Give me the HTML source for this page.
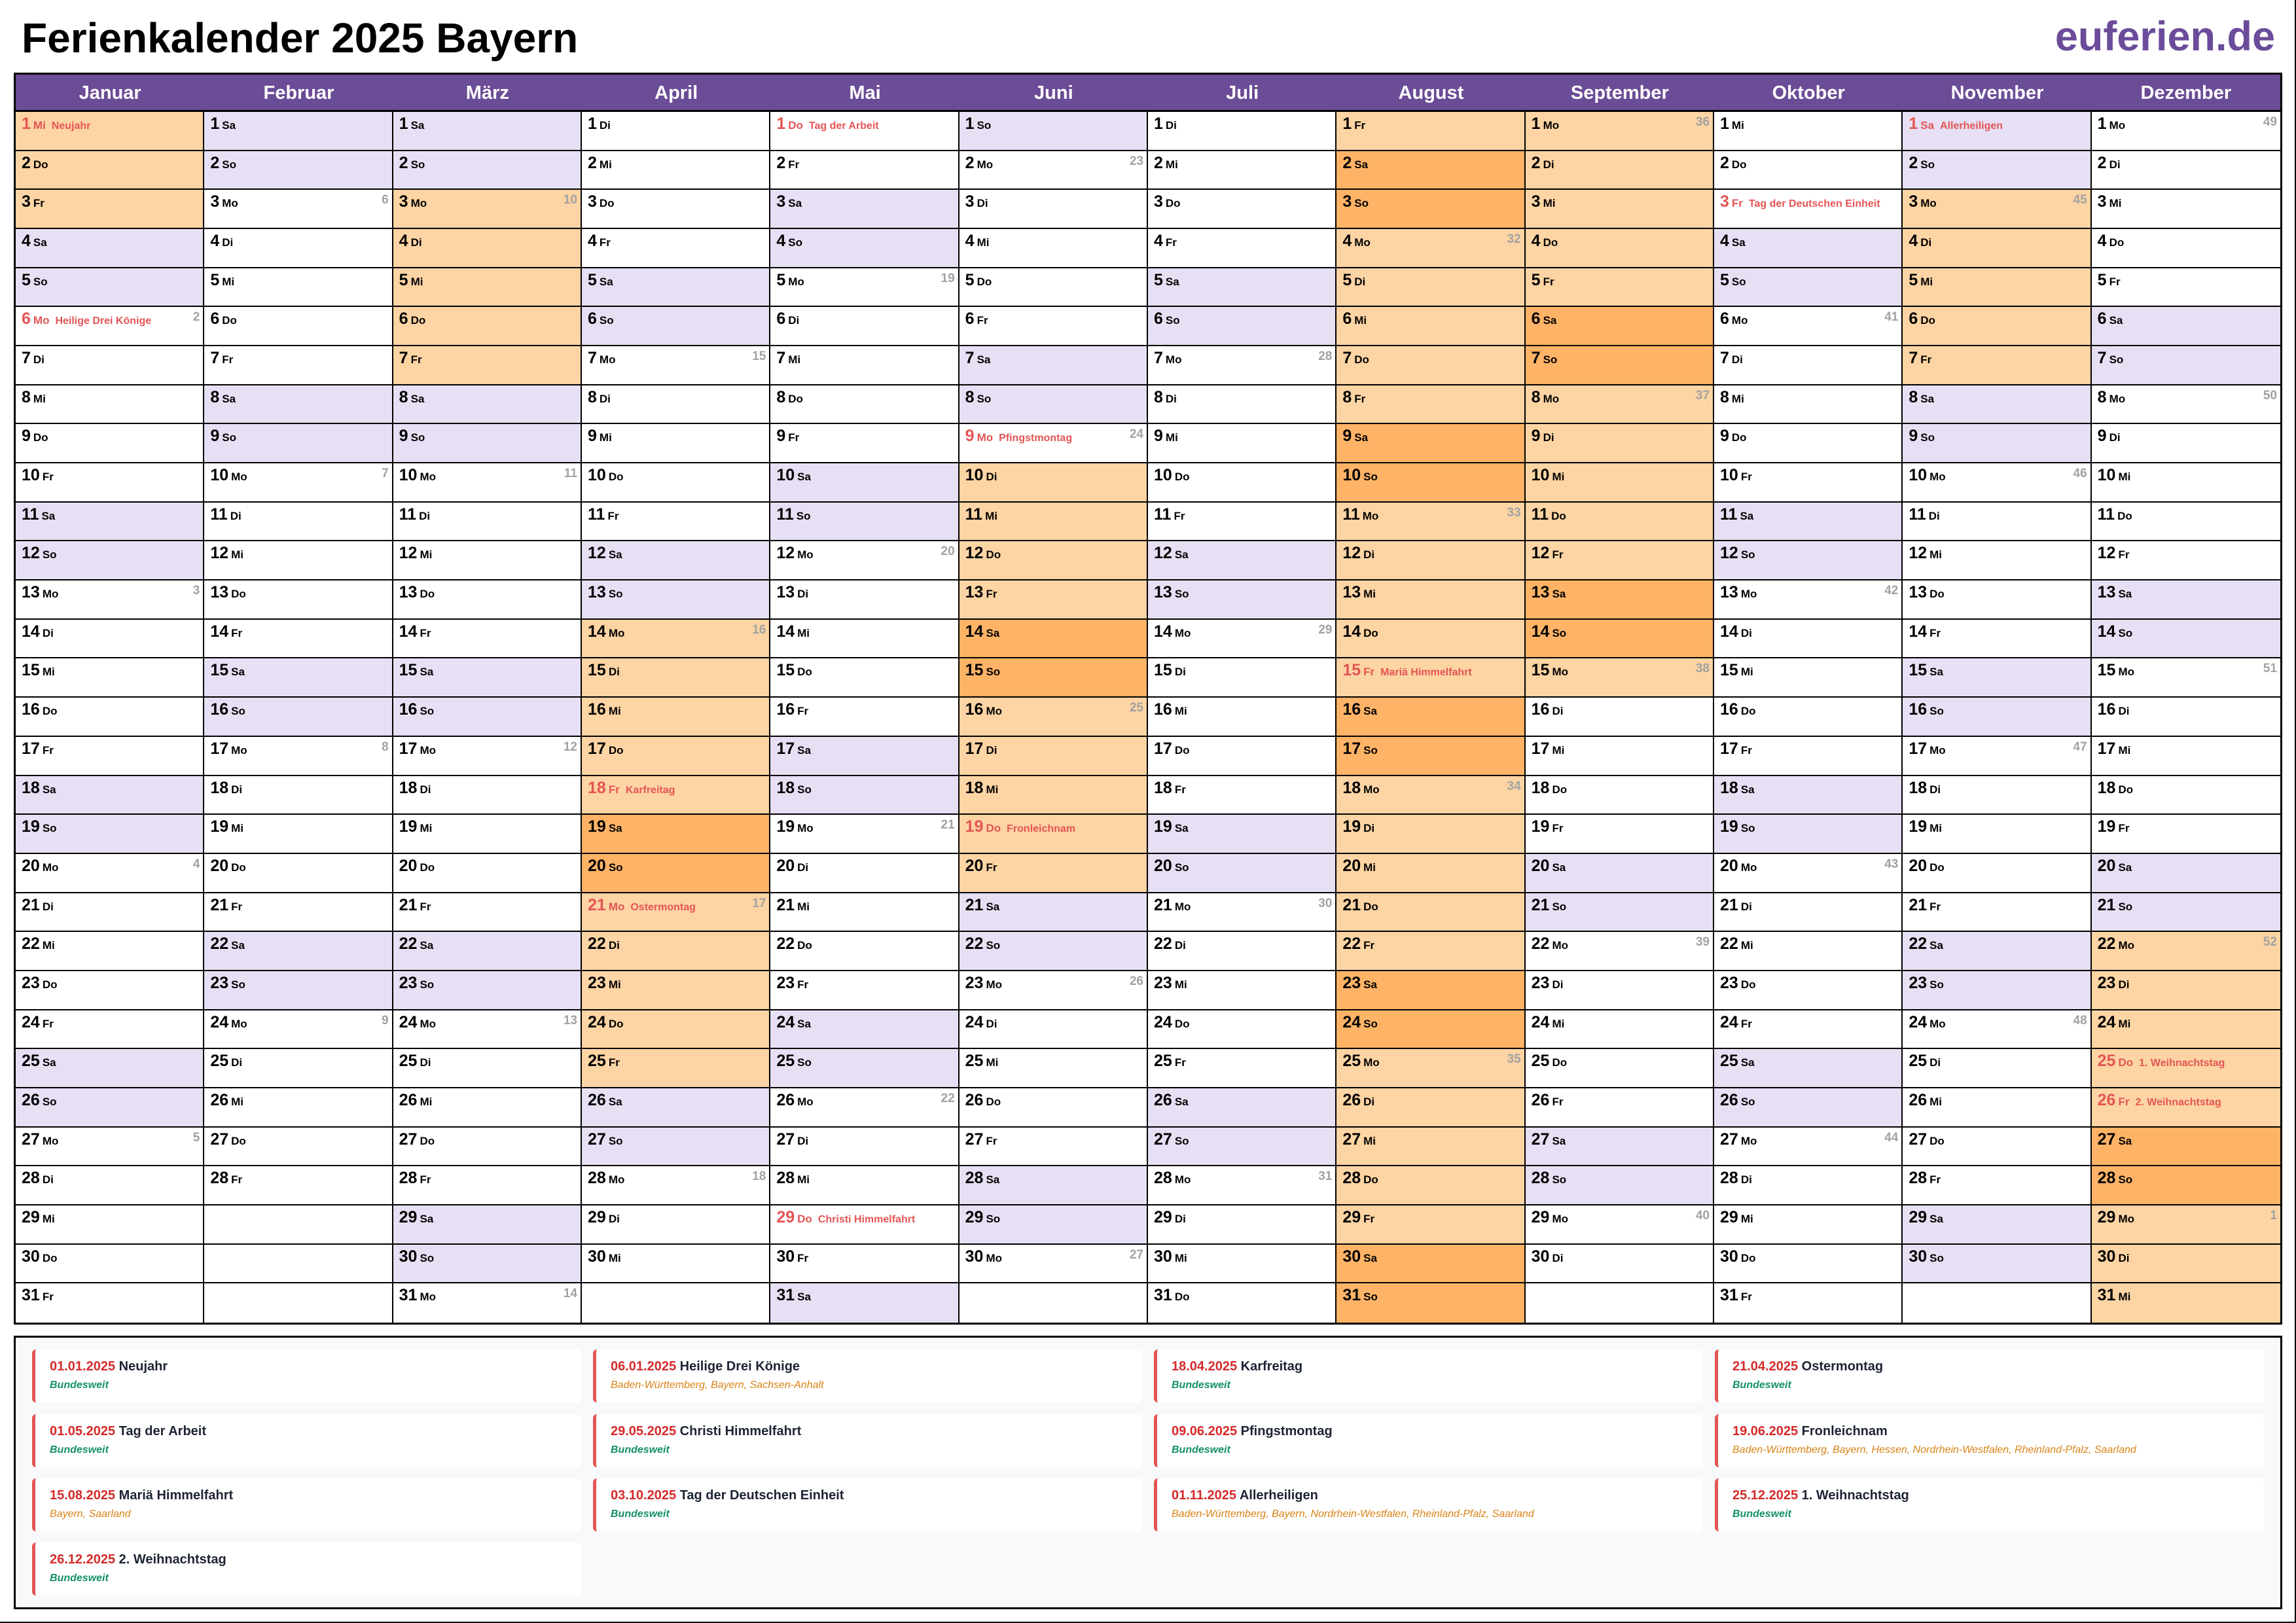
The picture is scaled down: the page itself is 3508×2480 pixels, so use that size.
<!DOCTYPE html>
<html><head><meta charset="utf-8">
<style>
*{box-sizing:border-box;margin:0;padding:0}
body{width:3508px;height:2480px;background:#fff;position:relative;overflow:hidden;font-family:"Liberation Sans",Arial,sans-serif}
#t{position:absolute;left:33px;top:21px;font-size:64px;font-weight:bold;color:#000;line-height:normal}
#u{position:absolute;right:32px;top:20px;font-size:63px;font-weight:bold;color:#6b4c9a;line-height:normal}
#g{position:absolute;left:21px;top:111px;width:3466px;height:1913px;border:3px solid #000;display:grid;grid-template-columns:repeat(12,1fr);grid-template-rows:57px repeat(31,1fr);grid-auto-flow:column}
#g h2{background:#6b4c96;color:#fff;font-size:29px;font-weight:bold;text-align:center;line-height:57px;border-bottom:3px solid #000}
#g p{position:relative;border-right:2px solid #000;border-bottom:2px solid #000;padding:3px 0 0 9px;font-size:25px;font-weight:bold;line-height:30px;color:#000;white-space:nowrap;overflow:hidden}
#g p:nth-child(32n){border-bottom:none}
#g p:nth-last-child(-n+31){border-right:none}
#g b{font-size:17px;margin-left:4px}
#g em{font-style:normal;font-size:16px;margin-left:9px}
#g s{position:absolute;right:5px;top:6px;font-size:19px;color:#a2a2a2;text-decoration:none;line-height:1}
.w{background:#e7dff3}.o{background:#fdd4a3}.d{background:#feb366}
#g .h{color:#e35555}
#l{position:absolute;left:21px;top:2041px;width:3466px;height:418px;border:3px solid #000;background:#f8f9fb}
.k{position:absolute;width:839px;height:81px;background:#fff;border-left:5px solid #e35555;border-radius:6px;padding-left:22px}
.k .a{position:absolute;left:22px;top:14px;font-size:20px;line-height:24px;color:#1c2333;font-weight:bold;white-space:nowrap}
.k .a i{font-style:normal;font-weight:bold;color:#d42a2a}
.k .r{position:absolute;left:22px;top:45px;font-size:16px;line-height:20px;font-style:italic;white-space:nowrap}
.gr{color:#159069;font-weight:bold}.or{color:#d98316}
#pr{position:absolute;right:0;top:0;width:2px;height:2480px;background:#000}
#pb{position:absolute;left:0;bottom:0;width:3508px;height:2px;background:#000}
</style></head><body>
<div id="t">Ferienkalender 2025 Bayern</div>
<div id="u">euferien.de</div>
<div id="g">
<h2>Januar</h2>
<p class="o h">1<b>Mi</b><em>Neujahr</em></p><p class="o">2<b>Do</b></p><p class="o">3<b>Fr</b></p><p class="w">4<b>Sa</b></p><p class="w">5<b>So</b></p><p class="h">6<b>Mo</b><em>Heilige Drei Könige</em><s>2</s></p><p>7<b>Di</b></p><p>8<b>Mi</b></p><p>9<b>Do</b></p><p>10<b>Fr</b></p><p class="w">11<b>Sa</b></p><p class="w">12<b>So</b></p><p>13<b>Mo</b><s>3</s></p><p>14<b>Di</b></p><p>15<b>Mi</b></p><p>16<b>Do</b></p><p>17<b>Fr</b></p><p class="w">18<b>Sa</b></p><p class="w">19<b>So</b></p><p>20<b>Mo</b><s>4</s></p><p>21<b>Di</b></p><p>22<b>Mi</b></p><p>23<b>Do</b></p><p>24<b>Fr</b></p><p class="w">25<b>Sa</b></p><p class="w">26<b>So</b></p><p>27<b>Mo</b><s>5</s></p><p>28<b>Di</b></p><p>29<b>Mi</b></p><p>30<b>Do</b></p><p>31<b>Fr</b></p>
<h2>Februar</h2>
<p class="w">1<b>Sa</b></p><p class="w">2<b>So</b></p><p>3<b>Mo</b><s>6</s></p><p>4<b>Di</b></p><p>5<b>Mi</b></p><p>6<b>Do</b></p><p>7<b>Fr</b></p><p class="w">8<b>Sa</b></p><p class="w">9<b>So</b></p><p>10<b>Mo</b><s>7</s></p><p>11<b>Di</b></p><p>12<b>Mi</b></p><p>13<b>Do</b></p><p>14<b>Fr</b></p><p class="w">15<b>Sa</b></p><p class="w">16<b>So</b></p><p>17<b>Mo</b><s>8</s></p><p>18<b>Di</b></p><p>19<b>Mi</b></p><p>20<b>Do</b></p><p>21<b>Fr</b></p><p class="w">22<b>Sa</b></p><p class="w">23<b>So</b></p><p>24<b>Mo</b><s>9</s></p><p>25<b>Di</b></p><p>26<b>Mi</b></p><p>27<b>Do</b></p><p>28<b>Fr</b></p><p></p><p></p><p></p>
<h2>März</h2>
<p class="w">1<b>Sa</b></p><p class="w">2<b>So</b></p><p class="o">3<b>Mo</b><s>10</s></p><p class="o">4<b>Di</b></p><p class="o">5<b>Mi</b></p><p class="o">6<b>Do</b></p><p class="o">7<b>Fr</b></p><p class="w">8<b>Sa</b></p><p class="w">9<b>So</b></p><p>10<b>Mo</b><s>11</s></p><p>11<b>Di</b></p><p>12<b>Mi</b></p><p>13<b>Do</b></p><p>14<b>Fr</b></p><p class="w">15<b>Sa</b></p><p class="w">16<b>So</b></p><p>17<b>Mo</b><s>12</s></p><p>18<b>Di</b></p><p>19<b>Mi</b></p><p>20<b>Do</b></p><p>21<b>Fr</b></p><p class="w">22<b>Sa</b></p><p class="w">23<b>So</b></p><p>24<b>Mo</b><s>13</s></p><p>25<b>Di</b></p><p>26<b>Mi</b></p><p>27<b>Do</b></p><p>28<b>Fr</b></p><p class="w">29<b>Sa</b></p><p class="w">30<b>So</b></p><p>31<b>Mo</b><s>14</s></p>
<h2>April</h2>
<p>1<b>Di</b></p><p>2<b>Mi</b></p><p>3<b>Do</b></p><p>4<b>Fr</b></p><p class="w">5<b>Sa</b></p><p class="w">6<b>So</b></p><p>7<b>Mo</b><s>15</s></p><p>8<b>Di</b></p><p>9<b>Mi</b></p><p>10<b>Do</b></p><p>11<b>Fr</b></p><p class="w">12<b>Sa</b></p><p class="w">13<b>So</b></p><p class="o">14<b>Mo</b><s>16</s></p><p class="o">15<b>Di</b></p><p class="o">16<b>Mi</b></p><p class="o">17<b>Do</b></p><p class="o h">18<b>Fr</b><em>Karfreitag</em></p><p class="d">19<b>Sa</b></p><p class="d">20<b>So</b></p><p class="o h">21<b>Mo</b><em>Ostermontag</em><s>17</s></p><p class="o">22<b>Di</b></p><p class="o">23<b>Mi</b></p><p class="o">24<b>Do</b></p><p class="o">25<b>Fr</b></p><p class="w">26<b>Sa</b></p><p class="w">27<b>So</b></p><p>28<b>Mo</b><s>18</s></p><p>29<b>Di</b></p><p>30<b>Mi</b></p><p></p>
<h2>Mai</h2>
<p class="h">1<b>Do</b><em>Tag der Arbeit</em></p><p>2<b>Fr</b></p><p class="w">3<b>Sa</b></p><p class="w">4<b>So</b></p><p>5<b>Mo</b><s>19</s></p><p>6<b>Di</b></p><p>7<b>Mi</b></p><p>8<b>Do</b></p><p>9<b>Fr</b></p><p class="w">10<b>Sa</b></p><p class="w">11<b>So</b></p><p>12<b>Mo</b><s>20</s></p><p>13<b>Di</b></p><p>14<b>Mi</b></p><p>15<b>Do</b></p><p>16<b>Fr</b></p><p class="w">17<b>Sa</b></p><p class="w">18<b>So</b></p><p>19<b>Mo</b><s>21</s></p><p>20<b>Di</b></p><p>21<b>Mi</b></p><p>22<b>Do</b></p><p>23<b>Fr</b></p><p class="w">24<b>Sa</b></p><p class="w">25<b>So</b></p><p>26<b>Mo</b><s>22</s></p><p>27<b>Di</b></p><p>28<b>Mi</b></p><p class="h">29<b>Do</b><em>Christi Himmelfahrt</em></p><p>30<b>Fr</b></p><p class="w">31<b>Sa</b></p>
<h2>Juni</h2>
<p class="w">1<b>So</b></p><p>2<b>Mo</b><s>23</s></p><p>3<b>Di</b></p><p>4<b>Mi</b></p><p>5<b>Do</b></p><p>6<b>Fr</b></p><p class="w">7<b>Sa</b></p><p class="w">8<b>So</b></p><p class="h">9<b>Mo</b><em>Pfingstmontag</em><s>24</s></p><p class="o">10<b>Di</b></p><p class="o">11<b>Mi</b></p><p class="o">12<b>Do</b></p><p class="o">13<b>Fr</b></p><p class="d">14<b>Sa</b></p><p class="d">15<b>So</b></p><p class="o">16<b>Mo</b><s>25</s></p><p class="o">17<b>Di</b></p><p class="o">18<b>Mi</b></p><p class="o h">19<b>Do</b><em>Fronleichnam</em></p><p class="o">20<b>Fr</b></p><p class="w">21<b>Sa</b></p><p class="w">22<b>So</b></p><p>23<b>Mo</b><s>26</s></p><p>24<b>Di</b></p><p>25<b>Mi</b></p><p>26<b>Do</b></p><p>27<b>Fr</b></p><p class="w">28<b>Sa</b></p><p class="w">29<b>So</b></p><p>30<b>Mo</b><s>27</s></p><p></p>
<h2>Juli</h2>
<p>1<b>Di</b></p><p>2<b>Mi</b></p><p>3<b>Do</b></p><p>4<b>Fr</b></p><p class="w">5<b>Sa</b></p><p class="w">6<b>So</b></p><p>7<b>Mo</b><s>28</s></p><p>8<b>Di</b></p><p>9<b>Mi</b></p><p>10<b>Do</b></p><p>11<b>Fr</b></p><p class="w">12<b>Sa</b></p><p class="w">13<b>So</b></p><p>14<b>Mo</b><s>29</s></p><p>15<b>Di</b></p><p>16<b>Mi</b></p><p>17<b>Do</b></p><p>18<b>Fr</b></p><p class="w">19<b>Sa</b></p><p class="w">20<b>So</b></p><p>21<b>Mo</b><s>30</s></p><p>22<b>Di</b></p><p>23<b>Mi</b></p><p>24<b>Do</b></p><p>25<b>Fr</b></p><p class="w">26<b>Sa</b></p><p class="w">27<b>So</b></p><p>28<b>Mo</b><s>31</s></p><p>29<b>Di</b></p><p>30<b>Mi</b></p><p>31<b>Do</b></p>
<h2>August</h2>
<p class="o">1<b>Fr</b></p><p class="d">2<b>Sa</b></p><p class="d">3<b>So</b></p><p class="o">4<b>Mo</b><s>32</s></p><p class="o">5<b>Di</b></p><p class="o">6<b>Mi</b></p><p class="o">7<b>Do</b></p><p class="o">8<b>Fr</b></p><p class="d">9<b>Sa</b></p><p class="d">10<b>So</b></p><p class="o">11<b>Mo</b><s>33</s></p><p class="o">12<b>Di</b></p><p class="o">13<b>Mi</b></p><p class="o">14<b>Do</b></p><p class="o h">15<b>Fr</b><em>Mariä Himmelfahrt</em></p><p class="d">16<b>Sa</b></p><p class="d">17<b>So</b></p><p class="o">18<b>Mo</b><s>34</s></p><p class="o">19<b>Di</b></p><p class="o">20<b>Mi</b></p><p class="o">21<b>Do</b></p><p class="o">22<b>Fr</b></p><p class="d">23<b>Sa</b></p><p class="d">24<b>So</b></p><p class="o">25<b>Mo</b><s>35</s></p><p class="o">26<b>Di</b></p><p class="o">27<b>Mi</b></p><p class="o">28<b>Do</b></p><p class="o">29<b>Fr</b></p><p class="d">30<b>Sa</b></p><p class="d">31<b>So</b></p>
<h2>September</h2>
<p class="o">1<b>Mo</b><s>36</s></p><p class="o">2<b>Di</b></p><p class="o">3<b>Mi</b></p><p class="o">4<b>Do</b></p><p class="o">5<b>Fr</b></p><p class="d">6<b>Sa</b></p><p class="d">7<b>So</b></p><p class="o">8<b>Mo</b><s>37</s></p><p class="o">9<b>Di</b></p><p class="o">10<b>Mi</b></p><p class="o">11<b>Do</b></p><p class="o">12<b>Fr</b></p><p class="d">13<b>Sa</b></p><p class="d">14<b>So</b></p><p class="o">15<b>Mo</b><s>38</s></p><p>16<b>Di</b></p><p>17<b>Mi</b></p><p>18<b>Do</b></p><p>19<b>Fr</b></p><p class="w">20<b>Sa</b></p><p class="w">21<b>So</b></p><p>22<b>Mo</b><s>39</s></p><p>23<b>Di</b></p><p>24<b>Mi</b></p><p>25<b>Do</b></p><p>26<b>Fr</b></p><p class="w">27<b>Sa</b></p><p class="w">28<b>So</b></p><p>29<b>Mo</b><s>40</s></p><p>30<b>Di</b></p><p></p>
<h2>Oktober</h2>
<p>1<b>Mi</b></p><p>2<b>Do</b></p><p class="h">3<b>Fr</b><em>Tag der Deutschen Einheit</em></p><p class="w">4<b>Sa</b></p><p class="w">5<b>So</b></p><p>6<b>Mo</b><s>41</s></p><p>7<b>Di</b></p><p>8<b>Mi</b></p><p>9<b>Do</b></p><p>10<b>Fr</b></p><p class="w">11<b>Sa</b></p><p class="w">12<b>So</b></p><p>13<b>Mo</b><s>42</s></p><p>14<b>Di</b></p><p>15<b>Mi</b></p><p>16<b>Do</b></p><p>17<b>Fr</b></p><p class="w">18<b>Sa</b></p><p class="w">19<b>So</b></p><p>20<b>Mo</b><s>43</s></p><p>21<b>Di</b></p><p>22<b>Mi</b></p><p>23<b>Do</b></p><p>24<b>Fr</b></p><p class="w">25<b>Sa</b></p><p class="w">26<b>So</b></p><p>27<b>Mo</b><s>44</s></p><p>28<b>Di</b></p><p>29<b>Mi</b></p><p>30<b>Do</b></p><p>31<b>Fr</b></p>
<h2>November</h2>
<p class="w h">1<b>Sa</b><em>Allerheiligen</em></p><p class="w">2<b>So</b></p><p class="o">3<b>Mo</b><s>45</s></p><p class="o">4<b>Di</b></p><p class="o">5<b>Mi</b></p><p class="o">6<b>Do</b></p><p class="o">7<b>Fr</b></p><p class="w">8<b>Sa</b></p><p class="w">9<b>So</b></p><p>10<b>Mo</b><s>46</s></p><p>11<b>Di</b></p><p>12<b>Mi</b></p><p>13<b>Do</b></p><p>14<b>Fr</b></p><p class="w">15<b>Sa</b></p><p class="w">16<b>So</b></p><p>17<b>Mo</b><s>47</s></p><p>18<b>Di</b></p><p>19<b>Mi</b></p><p>20<b>Do</b></p><p>21<b>Fr</b></p><p class="w">22<b>Sa</b></p><p class="w">23<b>So</b></p><p>24<b>Mo</b><s>48</s></p><p>25<b>Di</b></p><p>26<b>Mi</b></p><p>27<b>Do</b></p><p>28<b>Fr</b></p><p class="w">29<b>Sa</b></p><p class="w">30<b>So</b></p><p></p>
<h2>Dezember</h2>
<p>1<b>Mo</b><s>49</s></p><p>2<b>Di</b></p><p>3<b>Mi</b></p><p>4<b>Do</b></p><p>5<b>Fr</b></p><p class="w">6<b>Sa</b></p><p class="w">7<b>So</b></p><p>8<b>Mo</b><s>50</s></p><p>9<b>Di</b></p><p>10<b>Mi</b></p><p>11<b>Do</b></p><p>12<b>Fr</b></p><p class="w">13<b>Sa</b></p><p class="w">14<b>So</b></p><p>15<b>Mo</b><s>51</s></p><p>16<b>Di</b></p><p>17<b>Mi</b></p><p>18<b>Do</b></p><p>19<b>Fr</b></p><p class="w">20<b>Sa</b></p><p class="w">21<b>So</b></p><p class="o">22<b>Mo</b><s>52</s></p><p class="o">23<b>Di</b></p><p class="o">24<b>Mi</b></p><p class="o h">25<b>Do</b><em>1. Weihnachtstag</em></p><p class="o h">26<b>Fr</b><em>2. Weihnachtstag</em></p><p class="d">27<b>Sa</b></p><p class="d">28<b>So</b></p><p class="o">29<b>Mo</b><s>1</s></p><p class="o">30<b>Di</b></p><p class="o">31<b>Mi</b></p>
</div>
<div id="l"></div>
<div class="k" style="left:49px;top:2062px"><div class="a"><i>01.01.2025</i> Neujahr</div><div class="r gr">Bundesweit</div></div>
<div class="k" style="left:906px;top:2062px"><div class="a"><i>06.01.2025</i> Heilige Drei Könige</div><div class="r or">Baden-Württemberg, Bayern, Sachsen-Anhalt</div></div>
<div class="k" style="left:1763px;top:2062px"><div class="a"><i>18.04.2025</i> Karfreitag</div><div class="r gr">Bundesweit</div></div>
<div class="k" style="left:2620px;top:2062px"><div class="a"><i>21.04.2025</i> Ostermontag</div><div class="r gr">Bundesweit</div></div>
<div class="k" style="left:49px;top:2161px"><div class="a"><i>01.05.2025</i> Tag der Arbeit</div><div class="r gr">Bundesweit</div></div>
<div class="k" style="left:906px;top:2161px"><div class="a"><i>29.05.2025</i> Christi Himmelfahrt</div><div class="r gr">Bundesweit</div></div>
<div class="k" style="left:1763px;top:2161px"><div class="a"><i>09.06.2025</i> Pfingstmontag</div><div class="r gr">Bundesweit</div></div>
<div class="k" style="left:2620px;top:2161px"><div class="a"><i>19.06.2025</i> Fronleichnam</div><div class="r or">Baden-Württemberg, Bayern, Hessen, Nordrhein-Westfalen, Rheinland-Pfalz, Saarland</div></div>
<div class="k" style="left:49px;top:2259px"><div class="a"><i>15.08.2025</i> Mariä Himmelfahrt</div><div class="r or">Bayern, Saarland</div></div>
<div class="k" style="left:906px;top:2259px"><div class="a"><i>03.10.2025</i> Tag der Deutschen Einheit</div><div class="r gr">Bundesweit</div></div>
<div class="k" style="left:1763px;top:2259px"><div class="a"><i>01.11.2025</i> Allerheiligen</div><div class="r or">Baden-Württemberg, Bayern, Nordrhein-Westfalen, Rheinland-Pfalz, Saarland</div></div>
<div class="k" style="left:2620px;top:2259px"><div class="a"><i>25.12.2025</i> 1. Weihnachtstag</div><div class="r gr">Bundesweit</div></div>
<div class="k" style="left:49px;top:2357px"><div class="a"><i>26.12.2025</i> 2. Weihnachtstag</div><div class="r gr">Bundesweit</div></div>
<div id="pr"></div><div id="pb"></div>
</body></html>
